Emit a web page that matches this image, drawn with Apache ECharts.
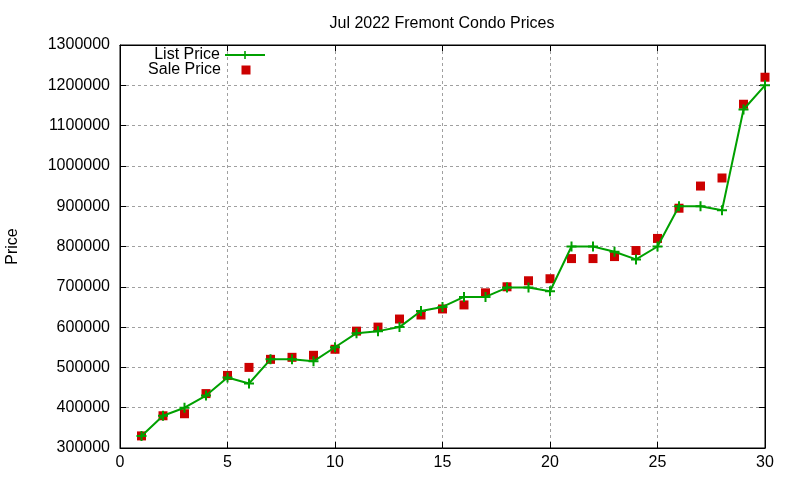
<!DOCTYPE html>
<html>
<head>
<meta charset="utf-8">
<script src="https://cdn.jsdelivr.net/npm/echarts@6/dist/echarts.min.js"></script>
<style>html,body{margin:0;padding:0;background:#fff}#c{width:800px;height:480px}</style>
</head>
<body>
<div id="c"></div>
<script>
var days = [1,2,3,4,5,6,7,8,9,10,11,12,13,14,15,16,17,18,19,20,21,22,23,24,25,26,27,28,29,30];
var listPrice = [330000,380000,400000,430000,475000,460000,520000,520000,515000,550000,585000,590000,600000,640000,650000,675000,675000,698000,698000,689000,800000,800000,787000,768000,800000,900000,900000,890000,1140000,1200000];
var salePrice = [330000,380000,385000,435000,480000,500000,520000,525000,530000,545000,590000,600000,620000,630000,645000,655000,685000,700000,715000,720000,770000,770000,775000,790000,820000,895000,950000,970000,1153000,1220000];
var xTicks = {min:0, max:30, interval:5};
var yTicks = {min:300000, max:1300000, interval:100000};

var FONT = 'Liberation Sans';
var GREEN = '#00a000', RED = '#cc0000';
var PLUS = 'path://M4,0H6V4H10V6H6V10H4V6H0V4H4Z';
var SQUARE_ICON = 'path://M0,4.5L0.01,4.5M15.5,0H24.5V9H15.5ZM39.99,4.5L40,4.5';

var chart = echarts.init(document.getElementById('c'));
var tickStyle = {show:true, inside:true, length:6, lineStyle:{color:'#000', width:1}};
var split = {show:true, lineStyle:{color:'#a0a0a0', type:[3,3], width:1}};
var axLine = {show:true, onZero:false, lineStyle:{color:'#000', width:1}};
chart.setOption({
  animation:false,
  backgroundColor:'#fff',
  title:{text:'Jul 2022 Fremont Condo Prices', left:437, top:11, textAlign:'center',
    textStyle:{fontFamily:FONT, fontSize:16, fontWeight:'normal', color:'#000'}},
  legend:[
    {data:['List Price'], right:534, top:47, padding:0, itemWidth:40, itemHeight:10, align:'right',
     textStyle:{fontFamily:FONT, fontSize:16, color:'#000'}},
    {data:['Sale Price'], right:534, top:62, padding:0, itemWidth:40, itemHeight:9, align:'right',
     icon:SQUARE_ICON, symbolKeepAspect:false,
     textStyle:{fontFamily:FONT, fontSize:16, color:'#000'}}
  ],
  grid:{left:120, right:35, top:45, bottom:32, show:true, borderColor:'#000', borderWidth:1,
        containLabel:false, outerBoundsMode:'none'},
  xAxis:[
    {type:'value', min:xTicks.min, max:xTicks.max, interval:xTicks.interval,
     axisLine:axLine, axisTick:tickStyle, splitLine:split,
     axisLabel:{fontFamily:FONT, fontSize:16, color:'#000', margin:7}},
    {type:'value', position:'top', min:xTicks.min, max:xTicks.max, interval:xTicks.interval,
     axisLine:axLine, axisTick:tickStyle, splitLine:{show:false}, axisLabel:{show:false}}
  ],
  yAxis:[
    {type:'value', min:yTicks.min, max:yTicks.max, interval:yTicks.interval,
     name:'Price', nameLocation:'middle', nameGap:99, nameRotate:90,
     nameTextStyle:{fontFamily:FONT, fontSize:16, color:'#000'},
     axisLine:axLine, axisTick:tickStyle, splitLine:split,
     axisLabel:{fontFamily:FONT, fontSize:16, color:'#000', margin:10,
       formatter:function(v){return String(v);}}},
    {type:'value', position:'right', min:yTicks.min, max:yTicks.max, interval:yTicks.interval,
     axisLine:axLine, axisTick:tickStyle, splitLine:{show:false}, axisLabel:{show:false}}
  ],
  series:[
    {name:'List Price', type:'line', xAxisIndex:0, yAxisIndex:0,
     data:days.map(function(d,i){return [d, listPrice[i]];}),
     symbol:PLUS, symbolSize:10, showSymbol:true,
     lineStyle:{color:GREEN, width:2}, itemStyle:{color:GREEN, opacity:1}},
    {name:'Sale Price', type:'scatter', xAxisIndex:0, yAxisIndex:0,
     data:days.map(function(d,i){return [d, salePrice[i]];}),
     symbol:'rect', symbolSize:9, itemStyle:{color:RED, opacity:1}}
  ]
});
</script>
</body>
</html>
